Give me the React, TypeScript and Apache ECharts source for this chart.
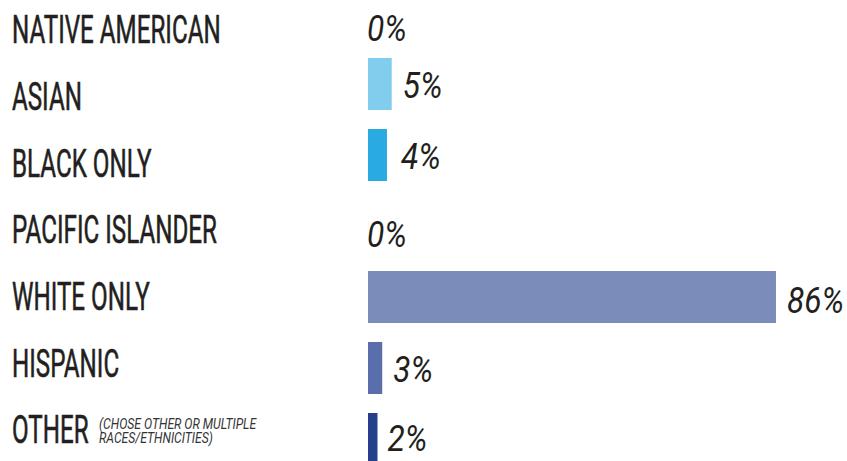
import React, { useEffect, useRef } from "react";
import * as echarts from "echarts";

const categories = [
  "NATIVE AMERICAN",
  "ASIAN",
  "BLACK ONLY",
  "PACIFIC ISLANDER",
  "WHITE ONLY",
  "HISPANIC",
  "OTHER",
];
const values = [0, 5, 4, 0, 86, 3, 2];
const barColors = ["#80cdee", "#80cdee", "#29abe2", "#5a6eab", "#7b8cbb", "#5a6eab", "#263f8c"];
const otherNote = "(CHOSE OTHER OR MULTIPLE\nRACES/ETHNICITIES)";
// label nudges [dx, dy] relative to the bar end (style only)
const labelNudge: [number, number][] = [
  [-1, 16],
  [11, 2],
  [14, 2],
  [-1, 9],
  [11, 4],
  [11, 2],
  [10, 0],
];

const FONT = 'Roboto, "DejaVu Sans", sans-serif';
const INK = "#231f20";

export default function App() {
  const ref = useRef<HTMLDivElement>(null);
  useEffect(() => {
    document.body.style.margin = "0";
    const chart = echarts.init(ref.current!, null, { renderer: "svg" });
    chart.setOption({
      animation: false,
      backgroundColor: "#ffffff",
      grid: [
        { left: 368, width: 474.4, top: 13, height: 426 },
        { left: 0, width: 360, top: 29, height: 400 },
      ],
      xAxis: [
        { type: "value", gridIndex: 0, min: 0, max: 100, show: false },
        { type: "value", gridIndex: 1, min: 0, max: 1, show: false },
      ],
      yAxis: [
        { type: "category", gridIndex: 0, data: categories, inverse: true, boundaryGap: false, show: false },
        { type: "category", gridIndex: 1, data: categories, inverse: true, boundaryGap: false, show: false },
      ],
      series: [
        {
          type: "bar",
          xAxisIndex: 0,
          yAxisIndex: 0,
          barWidth: 52,
          clip: false,
          data: values.map((v, i) => ({ value: v, itemStyle: { color: barColors[i] } })),
        },
        {
          type: "custom",
          xAxisIndex: 0,
          yAxisIndex: 0,
          clip: false,
          data: values.map((v, i) => [v, i]),
          renderItem: (params: any, api: any) => {
            const v = api.value(0);
            const idx = api.value(1);
            const p = api.coord([v, idx]);
            const n = labelNudge[idx];
            return {
              type: "text",
              x: p[0] + n[0],
              y: p[1] + n[1],
              scaleX: 0.88,
              style: {
                text: v + "%",
                fontFamily: FONT,
                fontStyle: "italic",
                fontSize: 36,
                fill: INK,
                align: "left",
                verticalAlign: "middle",
              },
            };
          },
        },
        {
          type: "custom",
          xAxisIndex: 1,
          yAxisIndex: 1,
          clip: false,
          data: categories.map((c, i) => [0, i]),
          renderItem: (params: any, api: any) => {
            const idx = api.value(1);
            const y = api.coord([0, idx])[1];
            const children: any[] = [
              {
                type: "text",
                x: 12,
                y: y + 1,
                scaleX: 0.62,
                style: {
                  text: categories[idx],
                  fontFamily: FONT,
                  fontSize: 39,
                  fill: INK,
                  stroke: INK,
                  lineWidth: 0.6,
                  align: "left",
                  verticalAlign: "middle",
                },
              },
            ];
            if (categories[idx] === "OTHER") {
              children.push({
                type: "text",
                x: 99,
                y: y + 2,
                scaleX: 0.87,
                style: {
                  text: otherNote,
                  fontFamily: FONT,
                  fontStyle: "italic",
                  fontSize: 14,
                  lineHeight: 13.5,
                  fill: "#333333",
                  align: "left",
                  verticalAlign: "middle",
                },
              });
            }
            return { type: "group", children };
          },
        },
      ],
    });
    return () => chart.dispose();
  }, []);
  return <div ref={ref} style={{ width: 847, height: 461 }} />;
}
